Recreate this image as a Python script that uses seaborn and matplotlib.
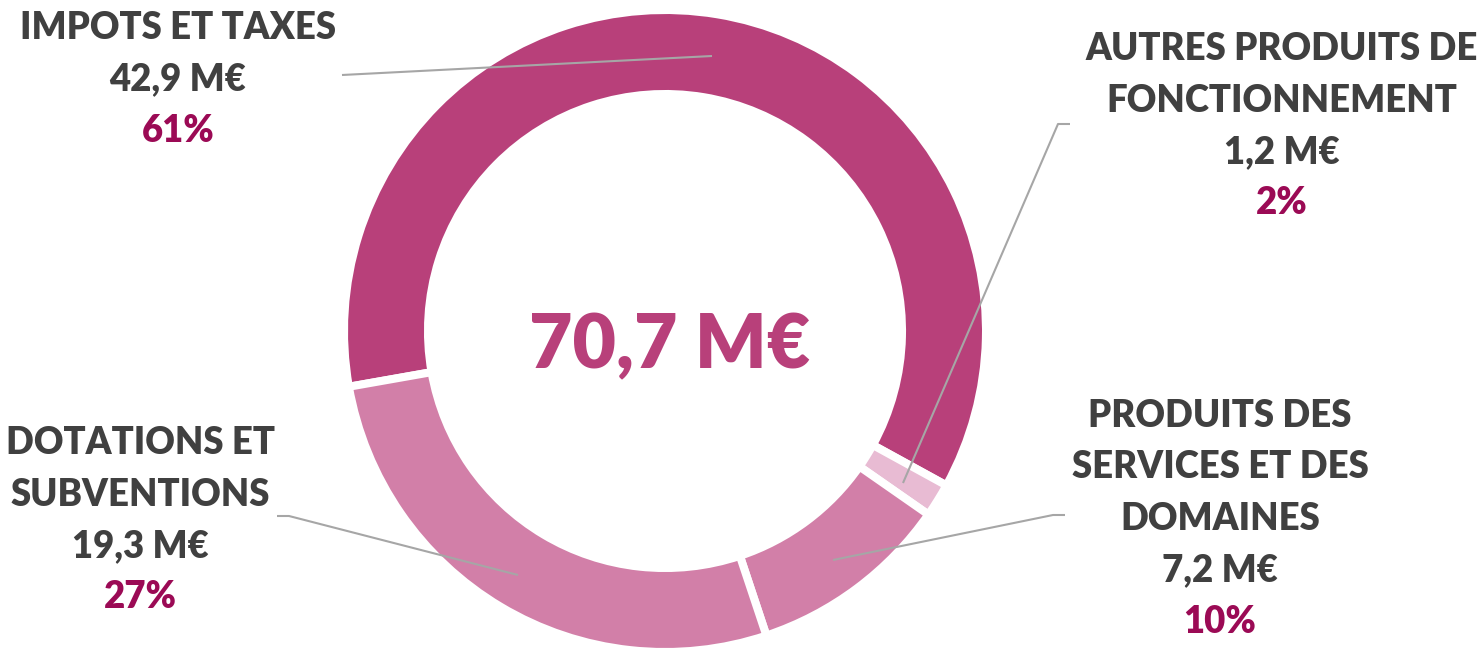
import matplotlib
matplotlib.use("Agg")
import matplotlib.pyplot as plt
import seaborn as sns

# data
categories = ["IMPOTS ET TAXES", "AUTRES PRODUITS DE FONCTIONNEMENT",
              "PRODUITS DES SERVICES ET DES DOMAINES", "DOTATIONS ET SUBVENTIONS"]
amounts = [42.9, 1.2, 7.2, 19.3]
amount_labels = ["42,9 M€", "1,2 M€", "7,2 M€", "19,3 M€"]
pct_labels = ["61%", "2%", "10%", "27%"]
name_lines = [["IMPOTS ET TAXES"],
              ["AUTRES PRODUITS DE", "FONCTIONNEMENT"],
              ["PRODUITS DES", "SERVICES ET DES", "DOMAINES"],
              ["DOTATIONS ET", "SUBVENTIONS"]]
total_label = "70,7 M€"

sns.set_theme(style="white")
plt.rcParams['font.family'] = ['Lato', 'DejaVu Sans']

colors = ["#B8407A", "#E8BBD3", "#D27FA8", "#D27FA8"]
dark = "#404040"
pct_color = "#9B0A55"
line_color = "#A6A6A6"

W, H = 1484, 653
fig = plt.figure(figsize=(W / 100, H / 100), dpi=100)
ax = fig.add_axes([0, 0, 1, 1])

cx, cy = 665, H - 331
ax.pie(amounts, colors=colors, startangle=190, counterclock=False,
       center=(cx, cy), radius=321,
       wedgeprops=dict(width=84, edgecolor="white", linewidth=5.8))
ax.set_xlim(0, W)
ax.set_ylim(0, H)
ax.set_aspect("equal")
ax.axis("off")

# centre total
ax.text(cx + 5, H - 368, total_label, ha="center", va="baseline",
        fontsize=54, fontweight="heavy", color="#B8407A")

# label blocks: x centre, baseline of first line (pixels from top)
anchors = [(178, 39), (1282, 60), (1220, 427), (140, 454)]
step = 51.5
for names, amt, pct, (x, y0) in zip(name_lines, amount_labels, pct_labels, anchors):
    lines = names + [amt]
    for i, t in enumerate(lines):
        ax.text(x, H - (y0 + i * step), t, ha="center", va="baseline",
                fontsize=26.3, fontweight="heavy", color=dark)
    ax.text(x, H - (y0 + len(lines) * step), pct, ha="center", va="baseline",
            fontsize=26.3, fontweight="heavy", color=pct_color)

# leader lines (pixel coords from top)
leaders = [[(342, 75), (712, 56)],
           [(1070, 124), (1058, 124), (903, 483)],
           [(1065, 515), (1053, 515), (833, 560)],
           [(277, 516), (289, 516), (518, 575)]]
for pts in leaders:
    xs = [p[0] for p in pts]
    ys = [H - p[1] for p in pts]
    ax.plot(xs, ys, color=line_color, lw=1.5, solid_capstyle="butt")

fig.savefig("out.png", dpi=100)
